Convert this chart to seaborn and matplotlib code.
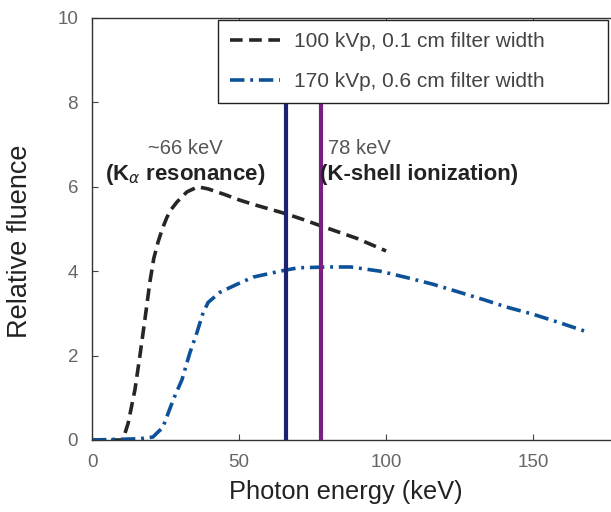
import matplotlib
matplotlib.use("Agg")
import matplotlib.pyplot as plt
import seaborn as sns
import pandas as pd

# --- data ---
energy_100 = [0, 10.5, 12.3, 14.6, 16.3, 18, 19.7, 21, 22.5, 24, 25.5, 27, 28.9, 32.3, 36, 39.5, 45, 50, 55, 60, 66, 72, 78, 85, 90, 95, 100]
fluence_100 = [0, 0, 0.4, 1.19, 2.0, 2.86, 3.75, 4.3, 4.7, 5.02, 5.28, 5.47, 5.64, 5.88, 6.0, 5.95, 5.82, 5.69, 5.58, 5.48, 5.36, 5.22, 5.07, 4.9, 4.78, 4.63, 4.48]

energy_170 = [0, 16.3, 20.7, 24.1, 27.6, 30.6, 33.3, 35.7, 37.8, 39.5, 43.5, 49.3, 54.8, 63.9, 70, 80, 88, 98, 107, 116, 125, 133, 141, 150, 159, 168]
fluence_170 = [0, 0.03, 0.07, 0.3, 0.95, 1.43, 2.07, 2.55, 3.02, 3.26, 3.5, 3.69, 3.86, 4.0, 4.08, 4.1, 4.1, 4.0, 3.85, 3.69, 3.5, 3.33, 3.15, 2.98, 2.78, 2.57]

label_100 = "100 kVp, 0.1 cm filter width"
label_170 = "170 kVp, 0.6 cm filter width"

resonance_energy = 66
ionization_energy = 78
x_ticks = [0, 50, 100, 150]
y_ticks = [0, 2, 4, 6, 8, 10]

sns.set_style("ticks")
plt.rcParams["font.family"] = ["Liberation Sans", "DejaVu Sans"]

df100 = pd.DataFrame({"energy": energy_100, "fluence": fluence_100})
df170 = pd.DataFrame({"energy": energy_170, "fluence": fluence_170})

fig = plt.figure(figsize=(6.11, 5.12), dpi=100)
ax = fig.add_axes([92 / 611, 1 - 440 / 512, 519 / 611, 422 / 512])

sns.lineplot(data=df100, x="energy", y="fluence", ax=ax, color="#262626", lw=2.6,
             linestyle=(0, (3.5, 1.8)), label=label_100)
sns.lineplot(data=df170, x="energy", y="fluence", ax=ax, color="#0d5299", lw=2.6,
             linestyle=(0, (4, 1.6, 0.8, 1.6)), label=label_170)

ax.vlines(resonance_energy, 0, 8, color="#1c2272", lw=3, zorder=3)
ax.vlines(ionization_energy, 0, 8, color="#7b1f7e", lw=3, zorder=3)

ax.text(31.6, 6.9, "~66 keV", ha="center", va="center", fontsize=14.5, color="#555555")
ax.text(31.6, 6.29, r"(K$_\alpha$ resonance)", ha="center", va="center", fontsize=16,
        fontweight="bold", color="#222222")
ax.text(80.2, 6.9, "78 keV", ha="left", va="center", fontsize=14.5, color="#555555")
ax.text(77.4, 6.29, "(K-shell ionization)", ha="left", va="center", fontsize=16,
        fontweight="bold", color="#222222")

ax.set_xlim(0, 176.5)
ax.set_ylim(0, 10)
ax.set_xticks(x_ticks)
ax.set_yticks(y_ticks)
ax.tick_params(direction="in", top=True, length=4, labelsize=13.5, labelcolor="#666666",
               color="#444444", pad=10)
ax.spines["right"].set_visible(False)
for s in ["left", "bottom", "top"]:
    ax.spines[s].set_color("#333333")
    ax.spines[s].set_linewidth(1.0)

ax.set_xlabel("Photon energy (keV)", fontsize=18.3, color="#222222")
ax.set_ylabel("Relative fluence", fontsize=19.5, color="#222222")
ax.xaxis.set_label_coords(0.49, -0.095)
ax.yaxis.set_label_coords(-0.114, 0.472)

leg = ax.legend(loc="upper left", bbox_to_anchor=(0.243, 0.799, 0.751, 0.196),
                mode="expand", borderaxespad=0,
                fontsize=15, frameon=True, fancybox=False, edgecolor="#222222",
                handlelength=2.4, borderpad=0.57, labelspacing=1.0, handletextpad=0.67,
                framealpha=1)
leg.get_frame().set_linewidth(1.0)
for t in leg.get_texts():
    t.set_color("#444444")
leg.set_zorder(5)

fig.savefig("out.png", dpi=100)
